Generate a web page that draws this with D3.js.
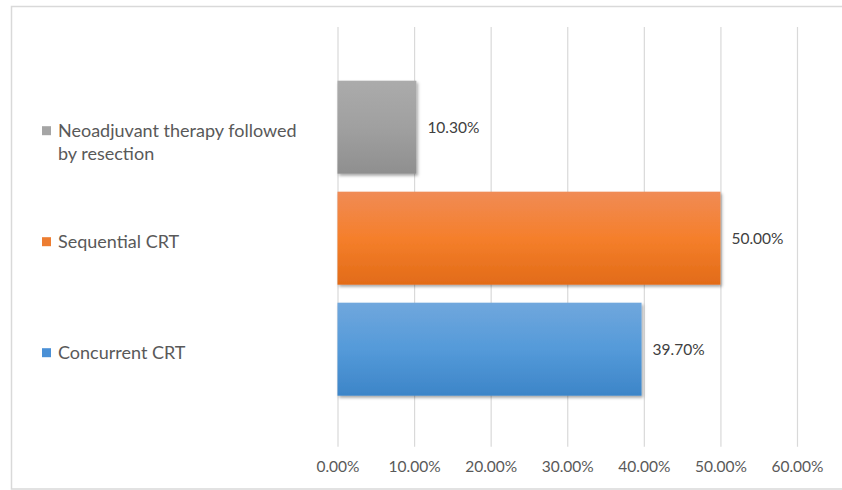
<!DOCTYPE html>
<html>
<head>
<meta charset="utf-8">
<script src="https://cdn.jsdelivr.net/npm/d3@7/dist/d3.min.js"></script>
<style>
  html, body { margin: 0; padding: 0; background: #fff; }
  svg { display: block; }
</style>
</head>
<body>
<svg id="chart" width="842" height="490"></svg>
<script>
const categories = ["Neoadjuvant therapy followed by resection", "Sequential CRT", "Concurrent CRT"];
const values = [0.103, 0.50, 0.397];
const tickValues = [0, 0.1, 0.2, 0.3, 0.4, 0.5, 0.6];
const colors = {
  "Neoadjuvant therapy followed by resection": ["#ababab", "#a0a0a0", "#8f8f8f"],
  "Sequential CRT": ["#f08b55", "#f57f2b", "#e26b18"],
  "Concurrent CRT": ["#70a7dd", "#549ad9", "#3d85c8"]
};
const legendColors = {
  "Neoadjuvant therapy followed by resection": "#a5a5a5",
  "Sequential CRT": "#ed7d31",
  "Concurrent CRT": "#4a90d6"
};

const svg = d3.select("#chart");
const fmt = d3.format(".2%");
const FONT = "Lato, 'Open Sans', sans-serif";

// frame
svg.append("rect").attr("x", 11.5).attr("y", 6.5).attr("width", 850).attr("height", 482.5)
  .attr("fill", "#fff").attr("stroke", "#d9d9d9").attr("stroke-width", 1.5);

const x = d3.scaleLinear().domain([0, 0.6]).range([337.5, 797]);
const y = d3.scaleBand().domain(categories).range([71.7, 404.7]).paddingInner(0.162).paddingOuter(0.081);

const defs = svg.append("defs");
categories.forEach((c, i) => {
  const g = defs.append("linearGradient").attr("id", "grad" + i)
    .attr("x1", 0).attr("y1", 0).attr("x2", 0).attr("y2", 1);
  g.append("stop").attr("offset", "0%").attr("stop-color", colors[c][0]);
  g.append("stop").attr("offset", "50%").attr("stop-color", colors[c][1]);
  g.append("stop").attr("offset", "100%").attr("stop-color", colors[c][2]);
});
const f = defs.append("filter").attr("id", "shadow").attr("x", "-5%").attr("y", "-5%").attr("width", "115%").attr("height", "125%");
f.append("feDropShadow").attr("dx", 1.5).attr("dy", 2).attr("stdDeviation", 1.5)
  .attr("flood-color", "#000").attr("flood-opacity", 0.35);

// grid + axis
const xAxis = d3.axisBottom(x).tickValues(tickValues).tickFormat(d3.format(".2%"))
  .tickSize(-(446.7 - 27)).tickPadding(14);
const ax = svg.append("g").attr("transform", "translate(0,446.7)").call(xAxis);
ax.select(".domain").remove();
ax.selectAll(".tick line").attr("stroke", "#d9d9d9").attr("stroke-width", 1.2);
ax.selectAll(".tick text").attr("fill", "#595959").style("font-family", FONT).style("font-size", "15.5px");

// bars
svg.append("g").selectAll("rect").data(categories).join("rect")
  .attr("x", x(0))
  .attr("y", d => y(d))
  .attr("width", (d, i) => x(values[i]) - x(0))
  .attr("height", y.bandwidth())
  .attr("fill", (d, i) => `url(#grad${i})`)
  .attr("filter", "url(#shadow)");

// data labels
svg.append("g").selectAll("text").data(categories).join("text")
  .attr("x", (d, i) => x(values[i]) + 11)
  .attr("y", d => y(d) + y.bandwidth() / 2)
  .attr("dy", "0.35em")
  .attr("fill", "#404040")
  .style("font-family", FONT).style("font-size", "15.5px")
  .text((d, i) => fmt(values[i]));

// legend (left)
const lg = svg.append("g");
categories.forEach((c, i) => {
  const cy = y(c) + y.bandwidth() / 2 + 3.5;
  lg.append("rect").attr("x", 42).attr("y", cy - 4.5).attr("width", 9).attr("height", 9)
    .attr("fill", legendColors[c]);
  const t = lg.append("text").attr("x", 58).attr("y", cy)
    .attr("fill", "#595959").style("font-family", FONT).style("font-size", "18px");
  const words = c.split(" ");
  let line = [];
  let ts = t.append("tspan").attr("x", 58).attr("dy", "0.35em");
  words.forEach(w => {
    line.push(w);
    ts.text(line.join(" "));
    if (ts.node().getComputedTextLength() > 245 && line.length > 1) {
      line.pop();
      ts.text(line.join(" "));
      line = [w];
      ts = t.append("tspan").attr("x", 58).attr("dy", "23px").text(w);
    }
  });
});
</script>
</body>
</html>
